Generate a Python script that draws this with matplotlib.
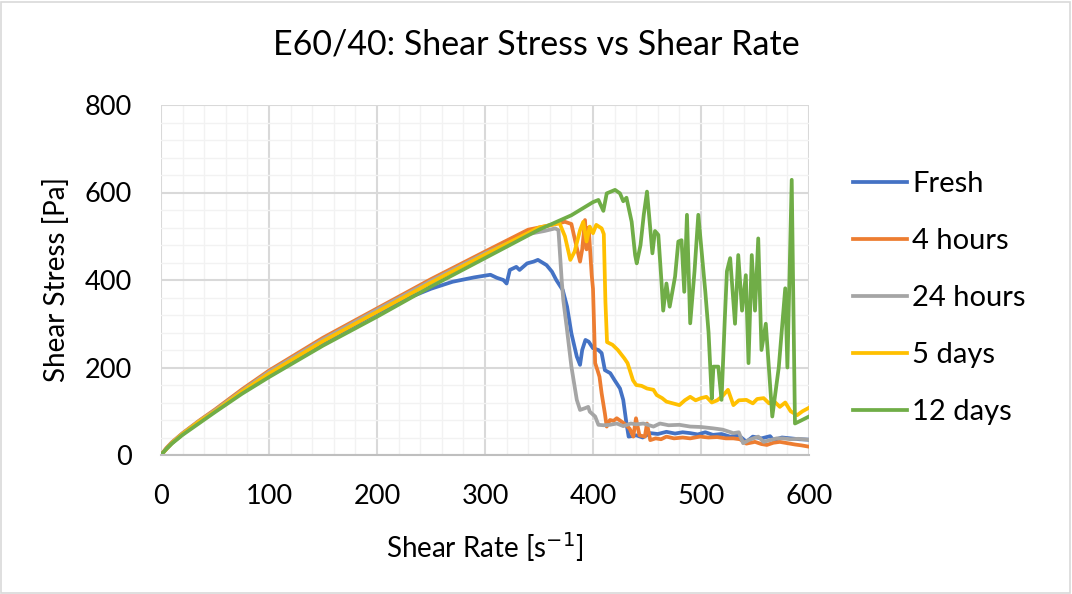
import matplotlib
matplotlib.use('Agg')
import matplotlib.pyplot as plt
from matplotlib.patches import Rectangle
from matplotlib.ticker import MultipleLocator

plt.rcParams['font.family'] = ['Lato', 'DejaVu Sans']

# data (shear rate [1/s], shear stress [Pa])
fresh_x = [0, 5, 10, 20, 35, 50, 75, 100, 150, 200, 230, 250, 270, 290, 300, 305, 311, 317, 320,
           323, 329, 332, 339, 345, 349, 353, 357, 362, 366, 372, 376, 380, 385, 388, 390, 393, 396,
           400, 405, 408, 411, 416, 420, 425, 428, 431, 433, 440, 446, 453, 460, 468, 476, 483, 490,
           497, 504, 511, 519, 527, 535, 542, 548, 556, 564, 567, 575, 583, 591, 600]
fresh_y = [0, 14, 27, 48, 75, 100, 143, 186, 258, 325, 360, 380, 396, 406, 410, 412, 405, 400, 392,
           423, 430, 423, 438, 442, 446, 440, 434, 419, 400, 377, 339, 278, 225, 206, 240, 263, 259,
           244, 240, 233, 194, 187, 171, 152, 126, 72, 42, 45, 40, 50, 48, 53, 49, 52, 50,
           47, 52, 46, 48, 42, 45, 30, 42, 38, 43, 34, 40, 38, 36, 35]

h4_x = [0, 5, 10, 20, 35, 50, 75, 100, 150, 200, 250, 300, 340, 360, 374, 380, 383, 388, 390,
        392.6, 394, 396, 398.8, 400, 402, 404, 406, 408, 411, 412.7, 415.7, 419, 422, 426.6, 430,
        434, 437.3, 439.8, 443, 448, 450, 453, 458, 463, 468, 475, 483, 490, 499, 507, 515, 523,
        530, 536, 542, 550, 556, 561, 567, 573, 580, 587, 593, 600]
h4_y = [0, 16, 29, 50, 78, 104, 150, 193, 268, 335, 402, 465, 515, 525, 533, 528, 495, 442, 470,
        537, 470, 520, 411, 380, 210, 195, 179, 141, 95, 65, 80, 78, 84, 76, 70,
        60, 42, 84, 45, 42, 72, 34, 38, 36, 42, 38, 40, 38, 42, 40, 41, 38,
        38, 36, 26, 30, 25, 23, 28, 30, 27, 24, 22, 19]

h24_x = [0, 10, 20, 35, 50, 75, 100, 150, 200, 250, 300, 340, 355, 365, 368, 371, 372.5, 375.6,
         380, 385, 388, 392.6, 395.6, 397, 402, 405, 410, 415.7, 422, 428, 435, 440, 446.6, 452,
         456, 462, 470, 480, 490, 500, 511, 520, 530, 535, 539, 545, 553, 558, 564, 570, 576, 583,
         590, 600]
h24_y = [0, 28, 49, 77, 102, 147, 190, 264, 332, 398, 461, 505, 512, 518, 514, 400, 354, 293,
         202, 126, 103, 107, 110, 99, 88, 69, 68, 69, 72, 66, 72, 70, 72, 68,
         65, 72, 68, 69, 65, 64, 61, 58, 50, 52, 27, 35, 42, 30, 34, 38, 38, 36,
         37, 35]

d5_x = [0, 10, 20, 35, 50, 75, 100, 150, 200, 250, 300, 350, 369, 374, 379, 383, 388, 391, 394,
        397, 400, 403, 408, 410, 411.5, 413, 418, 423, 429, 432, 437, 440, 445, 450, 456, 459, 464,
        468, 474, 480, 485, 490, 495, 500, 505, 510, 515, 520, 525, 530, 535, 542, 548, 552, 558,
        563, 568, 573, 578, 583, 589, 594, 600]
d5_y = [0, 27, 48, 76, 100, 145, 186, 260, 327, 394, 458, 520, 530, 500, 446, 465, 514, 533, 488,
        522, 507, 526, 518, 505, 350, 258, 252, 240, 221, 210, 171, 160, 158, 152, 149, 137, 130,
        122, 118, 114, 125, 133, 125, 130, 133, 120, 125, 135, 149, 114, 125, 126, 118, 128, 130,
        118, 122, 110, 120, 100, 91, 100, 108]

d12_x = [0, 5, 10, 20, 35, 50, 75, 100, 150, 200, 250, 300, 350, 380, 400, 405, 409.6, 412.7,
         420.4, 425, 428, 431, 435.8, 439, 440.5, 444, 447, 450, 453, 455, 457.4, 460.5, 463.4,
         465, 468, 471, 476, 479, 482, 484.5, 487, 490, 494, 497.5, 504, 507, 510, 511.5, 516,
         519, 522, 524, 527, 531.5, 534.5, 538, 541.5, 544, 547, 550, 553, 556, 560, 566, 572,
         578, 580, 584, 587, 592, 600]
d12_y = [0, 14, 26, 46, 72, 98, 140, 178, 250, 316, 385, 450, 515, 548, 578, 583, 558, 598,
         606, 598, 580, 588, 533, 457, 438, 480, 549, 602, 518, 461, 512, 503, 396,
         330, 392, 339, 408, 488, 491, 373, 549, 301, 420, 549, 373, 280, 129, 202, 202,
         126, 309, 420, 450, 300, 457, 330, 411, 210, 457, 330, 495, 240, 300, 88, 200,
         381, 200, 629, 72, 78, 88]

series = [
    ('Fresh', fresh_x, fresh_y, '#4472C4'),
    ('4 hours', h4_x, h4_y, '#ED7D31'),
    ('24 hours', h24_x, h24_y, '#A5A5A5'),
    ('5 days', d5_x, d5_y, '#FFC000'),
    ('12 days', d12_x, d12_y, '#70AD47'),
]

W, H = 1072, 594
fig = plt.figure(figsize=(W / 100, H / 100), dpi=100)
fig.patches.append(Rectangle((0.001, 0.002), 0.997, 0.995, transform=fig.transFigure,
                             fill=False, edgecolor='#d9d9d9', linewidth=1.2))
ax = fig.add_axes([161 / W, 1 - 455 / H, 648 / W, 350 / H])

for label, xs, ys, color in series:
    ax.plot(xs, ys, color=color, linewidth=2.7, label=label, solid_joinstyle='round')

ax.set_xlim(0, 600)
ax.set_ylim(0, 800)
ax.xaxis.set_major_locator(MultipleLocator(100))
ax.xaxis.set_minor_locator(MultipleLocator(20))
ax.yaxis.set_major_locator(MultipleLocator(200))
ax.yaxis.set_minor_locator(MultipleLocator(40))
ax.grid(which='major', color='#d9d9d9', linewidth=1.5)
ax.grid(which='minor', color='#f2f2f2', linewidth=1.0)
ax.set_axisbelow(True)
for s in ['top', 'right', 'left']:
    ax.spines[s].set_visible(False)
ax.spines['bottom'].set_color('#bfbfbf')
ax.spines['bottom'].set_linewidth(1.5)
ax.tick_params(which='both', length=0, labelsize=19.5, colors='black')
ax.tick_params(axis='y', pad=21)
ax.tick_params(axis='x', pad=21)

ax.set_xlabel('Shear Rate [s$^{-1}$]', fontsize=20)
ax.set_ylabel('Shear Stress [Pa]', fontsize=20)
ax.xaxis.set_label_coords(0.5, (455 - 530) / 350)
ax.yaxis.set_label_coords((70 - 161) / 648, 0.5)

fig.text(0.5, 1 - 45 / H, 'E60/40: Shear Stress vs Shear Rate', ha='center', va='center',
         fontsize=24.5)

fig.legend(loc='center left', bbox_to_anchor=(853 / W, 1 - 298 / H), frameon=False,
           fontsize=21, handlelength=1.85, handletextpad=0.17, labelspacing=1.06,
           borderpad=0, borderaxespad=0)

fig.savefig('out.png', dpi=100)
